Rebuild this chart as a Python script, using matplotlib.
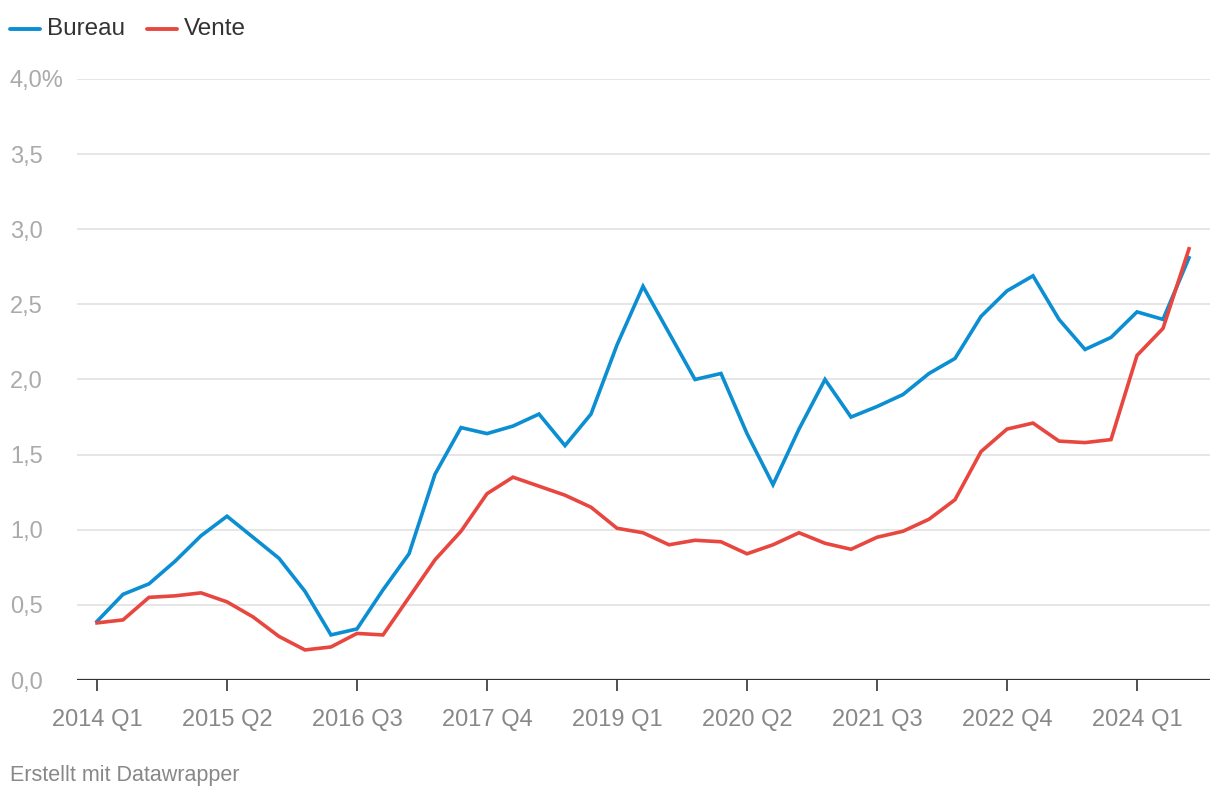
import matplotlib
matplotlib.use("Agg")
import matplotlib.pyplot as plt
import matplotlib.transforms as mtransforms

plt.rcParams['font.family'] = ['Liberation Sans', 'DejaVu Sans']

quarters = [f"{y} Q{q}" for y in range(2014, 2025) for q in range(1, 5)][:43]

bureau = [0.39, 0.57, 0.64, 0.79, 0.96, 1.09, 0.95, 0.81, 0.59, 0.30,
          0.34, 0.60, 0.84, 1.37, 1.68, 1.64, 1.69, 1.77, 1.56, 1.77,
          2.23, 2.62, 2.31, 2.00, 2.04, 1.64, 1.30, 1.67, 2.00, 1.75,
          1.82, 1.90, 2.04, 2.14, 2.42, 2.59, 2.69, 2.40, 2.20, 2.28,
          2.45, 2.40, 2.81]
vente = [0.38, 0.40, 0.55, 0.56, 0.58, 0.52, 0.42, 0.29, 0.20, 0.22,
         0.31, 0.30, 0.55, 0.80, 0.99, 1.24, 1.35, 1.29, 1.23, 1.15,
         1.01, 0.98, 0.90, 0.93, 0.92, 0.84, 0.90, 0.98, 0.91, 0.87,
         0.95, 0.99, 1.07, 1.20, 1.52, 1.67, 1.71, 1.59, 1.58, 1.60,
         2.16, 2.34, 2.87]

series_names = ["Bureau", "Vente"]
colors = ["#0b8ed2", "#e8473f"]

y_ticks = [0.0, 0.5, 1.0, 1.5, 2.0, 2.5, 3.0, 3.5, 4.0]
y_labels = ["0,0", "0,5", "1,0", "1,5", "2,0", "2,5", "3,0", "3,5", "4,0%"]
x_tick_idx = list(range(0, 43, 5))
x_tick_labels = [quarters[i] for i in x_tick_idx]

W, H = 1220, 798
fig = plt.figure(figsize=(W / 100, H / 100), dpi=100)
left_px, right_px, top_px, bottom_px = 77, 1210, 79, 680
ax = fig.add_axes([left_px / W, 1 - bottom_px / H,
                   (right_px - left_px) / W, (bottom_px - top_px) / H])

x = list(range(len(quarters)))
ax.set_xlim((left_px - 97) / 26, (right_px - 97) / 26)
ax.set_ylim(0, 4.0)

for yv in y_ticks[1:]:
    ax.axhline(yv, color="#e2e2e2", lw=1.2, zorder=1)
ax.axhline(0, color="#333333", lw=1.6, zorder=3)

for vals, c in zip([bureau, vente], colors):
    ax.plot(x, vals, color=c, lw=2.6, solid_joinstyle="miter", zorder=4)

for s in ax.spines.values():
    s.set_visible(False)
ax.set_yticks([])
ax.set_xticks(x_tick_idx)
ax.set_xticklabels(x_tick_labels, fontsize=17, color="#888888")
ax.tick_params(axis="x", length=8, width=1.2, color="#333333", pad=13)

trans = mtransforms.blended_transform_factory(fig.transFigure, ax.transData)
trans = trans + mtransforms.ScaledTranslation(0, -2.5 / 100, fig.dpi_scale_trans)
for yv, lab in zip(y_ticks, y_labels):
    ax.text(10 / W, yv, lab, transform=trans, ha="left", va="center",
            fontsize=17, color="#aaaaaa")

# legend
leg_y = 1 - 29 / H
fig.add_artist(plt.Line2D([10 / W, 40 / W], [leg_y, leg_y], color=colors[0], lw=2.8,
                          solid_capstyle="round"))
fig.text(47 / W, leg_y, series_names[0], fontsize=17.5, color="#333333", va="center")
fig.add_artist(plt.Line2D([147 / W, 177 / W], [leg_y, leg_y], color=colors[1], lw=2.8,
                          solid_capstyle="round"))
fig.text(184 / W, leg_y, series_names[1], fontsize=17.5, color="#333333", va="center")

fig.text(10 / W, 1 - 776 / H, "Erstellt mit Datawrapper", fontsize=15.5,
         color="#888888", va="center")

fig.savefig("out.png", dpi=100, facecolor="white")
